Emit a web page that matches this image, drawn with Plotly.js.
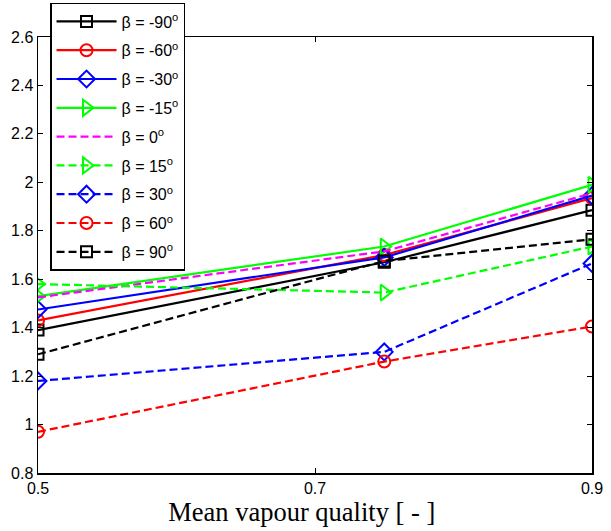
<!DOCTYPE html>
<html>
<head>
<meta charset="utf-8">
<script src="https://cdn.plot.ly/plotly-3.0.1.min.js"></script>
<style>html,body{margin:0;padding:0;background:#fff;}#chart{width:611px;height:531px;}</style>
</head>
<body>
<div id="chart"></div>
<script>
// Data
const quality = [0.5, 0.75, 0.9];
const angleLabels = ["-90", "-60", "-30", "-15", "0", "15", "30", "60", "90"];
const beta_m90 = [1.39, 1.67, 1.885];
const beta_m60 = [1.43, 1.70, 1.935];
const beta_m30 = [1.475, 1.69, 1.945];
const beta_m15 = [1.53, 1.735, 1.99];
const beta_0   = [1.525, 1.715, 1.955];
const beta_15  = [1.58, 1.545, 1.735];
const beta_30  = [1.18, 1.30, 1.665];
const beta_60  = [0.97, 1.26, 1.405];
const beta_90  = [1.29, 1.675, 1.765];
const xTicks = [0.5, 0.7, 0.9];
const xTickText = ["0.5", "0.7", "0.9"];

const seriesValues = [beta_m90, beta_m60, beta_m30, beta_m15, beta_0, beta_15, beta_30, beta_60, beta_90];
const colors = ["#000000", "#ff0000", "#0000ff", "#00ff00", "#ff00ff", "#00ff00", "#0000ff", "#ff0000", "#000000"];
const symbols = ["square-open", "circle-open", "diamond-open", "triangle-right-open", "", "triangle-right-open", "diamond-open", "circle-open", "square-open"];
const dashes = ["solid", "solid", "solid", "solid", "8px,4px", "8px,4px", "8px,4px", "8px,4px", "8px,4px"];
const msizes = [11, 12, 13, 14, 6, 14, 13, 12, 11];

const traces = seriesValues.map((ys, i) => {
  const t = {
    x: quality,
    y: ys,
    type: "scatter",
    mode: symbols[i] ? "lines+markers" : "lines",
    name: "\u03b2 = " + angleLabels[i] + "<sup>o</sup>",
    legendgroup: "g" + i,
    line: {color: colors[i], width: 2.2, dash: dashes[i]},
    marker: {color: colors[i], size: msizes[i], line: {color: colors[i], width: 2}}
  };
  if (symbols[i]) t.marker.symbol = symbols[i];
  return t;
});

const layout = {
  width: 611, height: 531,
  margin: {l: 38, r: 19, t: 37, b: 58, autoexpand: false},
  paper_bgcolor: "#ffffff",
  plot_bgcolor: "#ffffff",
  font: {family: "Liberation Sans, Arial, sans-serif", size: 16, color: "#000"},
  showlegend: true,
  legend: {
    x: 0.0217, y: 1.078, xanchor: "left", yanchor: "top",
    bgcolor: "#ffffff", bordercolor: "#000000", borderwidth: 1.5,
    font: {family: "Liberation Sans, Arial, sans-serif", size: 16, color: "#000"},
    tracegroupgap: 5,
    itemwidth: 60,
    maxheight: 520
  },
  xaxis: {
    range: [0.5, 0.9],
    tickvals: xTicks, ticktext: xTickText,
    ticks: "inside", ticklen: 5, tickwidth: 1, tickcolor: "#000",
    showline: true, linecolor: "#000", linewidth: 1.5, mirror: "ticks",
    showgrid: false, zeroline: false, automargin: false,
    tickfont: {size: 16},
    title: {text: "Mean vapour quality [ - ]&nbsp;&nbsp;&nbsp;&nbsp;", font: {family: "Liberation Serif, Times New Roman, serif", size: 26.5, color: "#000"}, standoff: 6}
  },
  yaxis: {
    range: [0.8, 2.6], dtick: 0.2, tick0: 0.8,
    ticks: "inside", ticklen: 5, tickwidth: 1, tickcolor: "#000",
    showline: true, linecolor: "#000", linewidth: 1.5, mirror: "ticks",
    showgrid: false, zeroline: false, automargin: false,
    tickfont: {size: 16}
  }
};

Plotly.newPlot("chart", traces, layout, {displayModeBar: false, staticPlot: true});
</script>
</body>
</html>
